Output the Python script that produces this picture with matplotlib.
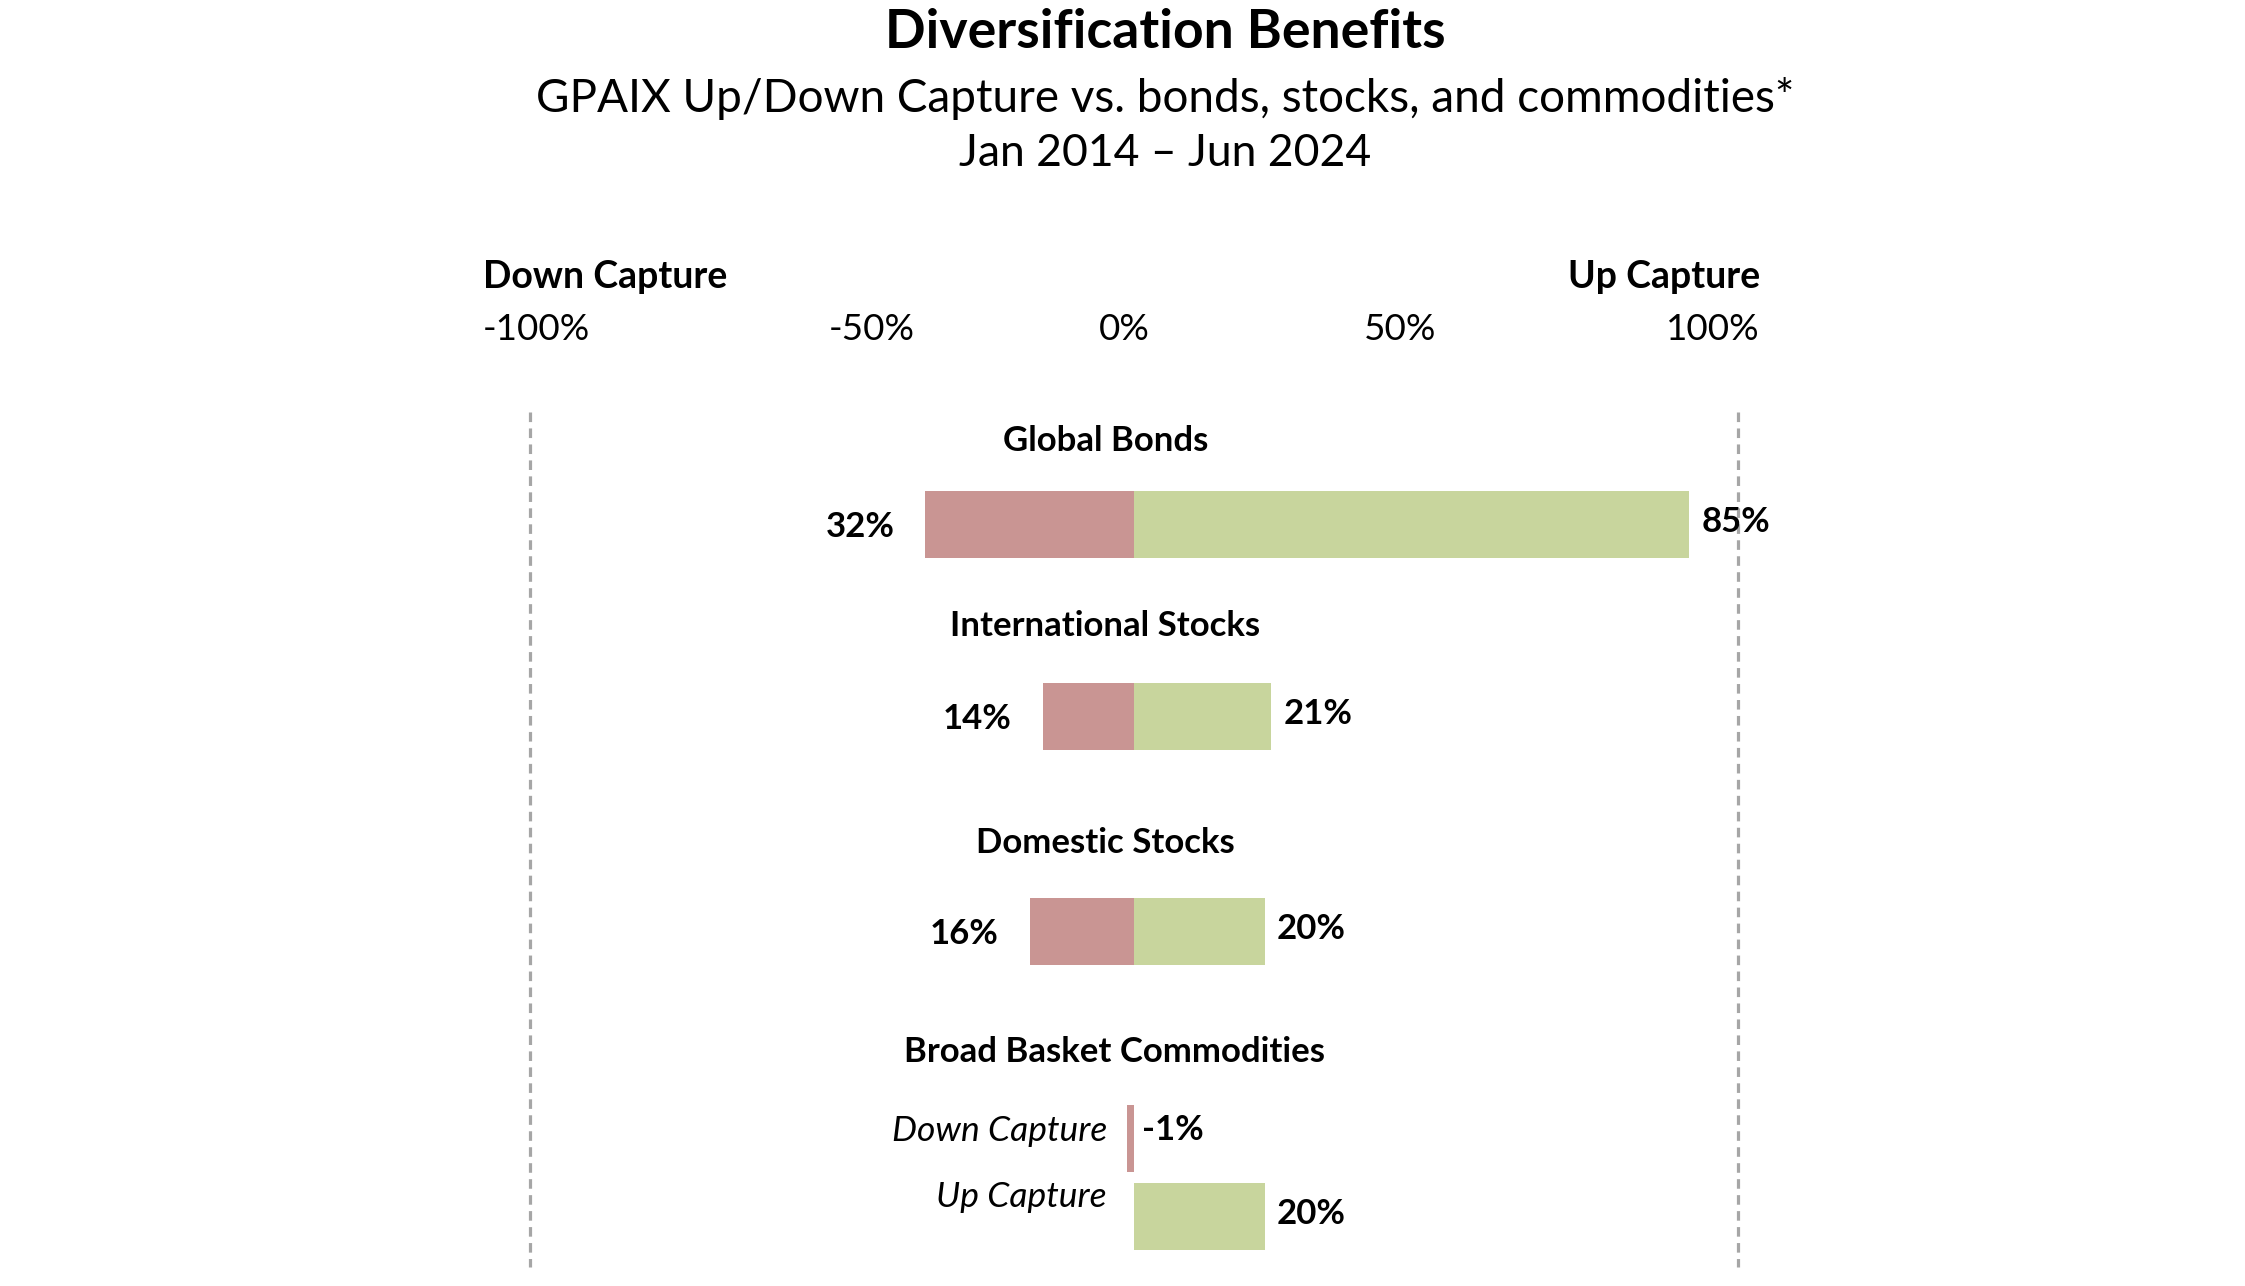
"""
Diversification benefits: up/down capture bars
"""
import matplotlib
matplotlib.use('Agg')
import matplotlib.pyplot as plt

plt.rcParams['font.family'] = ['Lato', 'DejaVu Sans']

# data
categories = ['Global Bonds', 'International Stocks', 'Domestic Stocks',
              'Broad Basket Commodities']
down_capture = [32, 14, 16, -1]
up_capture = [85, 21, 20, 20]
tick_labels = ['-100%', '-50%', '0%', '50%', '100%']

W, H = 2245, 1286
red = '#C99593'
green = '#C8D59D'

# layout (pixels from top-left)
px_per_pct = 6.53
zero_px = 1134
row_y_down = [524, 716, 931, 1138]
row_y_up = [524, 716, 931, 1216]
label_y = [441, 626, 843, 1052]
label_dx = [-4.4, -4.4, -4.4, -3.0]
bar_h = 67

fig = plt.figure(figsize=(W / 100, H / 100), dpi=100)
ax = fig.add_axes([0, 0, 1, 1])
ax.set_xlim(-zero_px / px_per_pct, (W - zero_px) / px_per_pct)
ax.set_ylim(H, 0)
ax.axis('off')


def fx(x):
    return x / W


def fy(y):
    return 1 - y / H


# titles
fig.text(fx(1165), fy(32), 'Diversification Benefits', ha='center', va='center',
         fontsize=38.5, fontweight='bold')
fig.text(fx(1165), fy(98), 'GPAIX Up/Down Capture vs. bonds, stocks, and commodities*',
         ha='center', va='center', fontsize=33)
fig.text(fx(1165), fy(154), 'Jan 2014 \u2013 Jun 2024', ha='center', va='center',
         fontsize=32)

# header axis labels
fig.text(fx(483), fy(277), 'Down Capture', ha='left', va='center', fontsize=27,
         fontweight='bold')
fig.text(fx(1760), fy(277), 'Up Capture', ha='right', va='center', fontsize=27,
         fontweight='bold')
tick_x = [483, 872, 1124, 1400, 1760]
tick_ha = ['left', 'center', 'center', 'center', 'right']
for lab, x, ha in zip(tick_labels, tick_x, tick_ha):
    fig.text(fx(x), fy(329), lab, ha=ha, va='center', fontsize=26.5)

# dashed guides
for x in [530, 1738]:
    ax.plot([(x - zero_px) / px_per_pct] * 2, [412, 1267], color='#A6A6A6',
            lw=2.3, ls=(0, (3, 2)))

# bars
for i, cat in enumerate(categories):
    d = down_capture[i]
    u = up_capture[i]
    ax.barh(row_y_down[i], -abs(d), height=bar_h, left=0, color=red)
    ax.barh(row_y_up[i], u, height=bar_h, left=0, color=green)
    ax.text(label_dx[i], label_y[i], cat, ha='center', va='center', fontsize=25,
            fontweight='bold')
    if d > 0:
        ax.annotate(f'{d}%', (-abs(d), row_y_down[i] + 3), xytext=(-22, 0),
                    textcoords='offset points', ha='right', va='center',
                    fontsize=25, fontweight='bold')
    else:
        ax.annotate(f'{d}%', (0, row_y_down[i] - 8), xytext=(6, 0),
                    textcoords='offset points', ha='left', va='center',
                    fontsize=25, fontweight='bold')
    ax.annotate(f'{u}%', (u, row_y_up[i] - 2), xytext=(9, 0),
                textcoords='offset points', ha='left', va='center',
                fontsize=25, fontweight='bold')

# series labels for last row
ax.text(-27 / px_per_pct, 1131, 'Down Capture', ha='right', va='center',
        fontsize=25.5, style='italic')
ax.text(-27 / px_per_pct, 1197, 'Up Capture', ha='right', va='center',
        fontsize=25.5, style='italic')

fig.savefig('out.png', dpi=100)
